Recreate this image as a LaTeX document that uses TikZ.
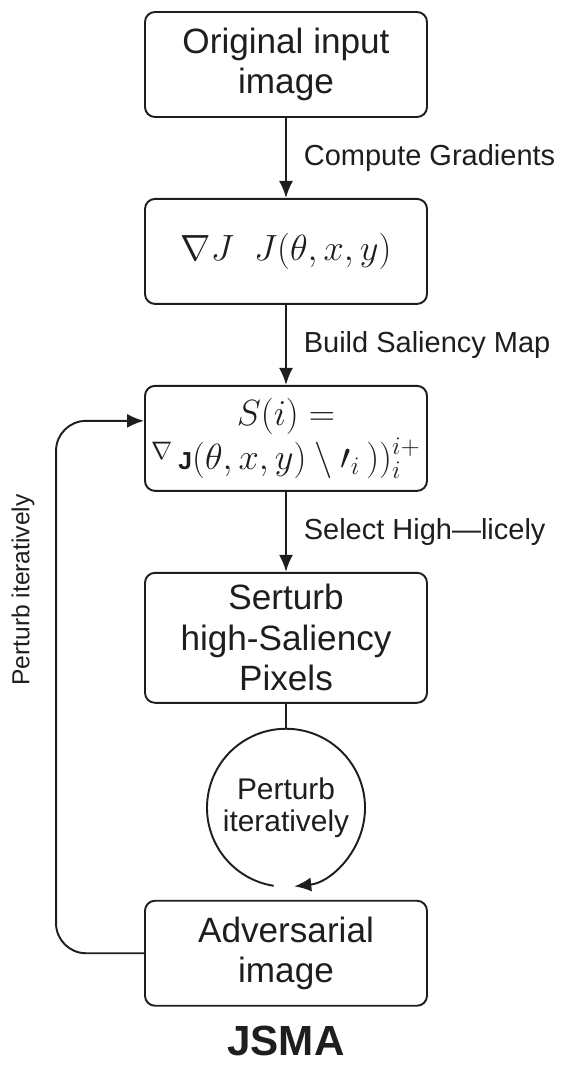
\documentclass[tikz,border=0pt]{standalone}
\usepackage{fontspec}
\setmainfont{Liberation Sans}
\usepackage{amsmath}
\usepackage{amssymb}
\usetikzlibrary{shapes, arrows.meta, positioning}
\definecolor{Ink}{HTML}{1E1E1E}

\begin{document}
\begin{tikzpicture}[node distance=1.6cm, >={Latex[length=3.4mm,width=2.8mm]}, line width=1.1pt, draw=Ink, text=Ink,
  box/.style={draw, rounded corners=0.2cm, minimum width=5.64cm, minimum height=2.1cm, align=center, font=\fontsize{20}{23}\selectfont},
  lbl/.style={font=\fontsize{16.5}{19}\selectfont}]
  \useasboundingbox (0,0) rectangle (11.34,-21.34);

  \node[box] (orig) at (5.72,-1.29) {Original input\\image};
  \node[box, below=of orig] (grad) {\fontsize{22}{26}\selectfont$\nabla J\;\; J(\theta, x, y)$};
  \node[box, below=of grad] (sal) {\fontsize{20}{21}\selectfont$S(i) =$\\[2pt]
    \fontsize{20}{21}\selectfont$\raisebox{0.5ex}{$\scriptstyle\nabla$}\,{\scriptstyle\mathbf{J}}(\theta, x, y) \setminus {\prime}_{i}\,))_{i}^{i+}$};
  \node[box, below=of sal, minimum height=2.6cm] (pert) {Serturb\\high-Saliency\\Pixels};
  \node[circle, minimum size=3.16cm, inner sep=0pt, outer sep=0pt, below=0.5cm of pert, align=center, font=\fontsize{17}{18.5}\selectfont] (iter) {Perturb\\iteratively};
  \node[box, below=0.26cm of iter] (adv) {Adversarial\\image};
  \node[font=\bfseries\fontsize{24}{28}\selectfont, below=0.25cm of adv] (title) {JSMA};
  \node[font=\fontsize{14}{17}\selectfont, rotate=90] (side) at (0.46,-11.8) {Perturb iteratively};

  \draw[->] (orig) -- node[lbl, right=0.22cm] {Compute Gradients} (grad);
  \draw[->] (grad) -- node[lbl, right=0.22cm] {Build Saliency Map} (sal);
  \draw[->] (sal) -- node[lbl, right=0.22cm] {Select High---licely} (pert);
  \draw (pert) -- (iter);
  \draw[->] (iter.261) arc[start angle=261, end angle=-84, radius=1.58cm];
  \draw[->, rounded corners=0.6cm] (adv.west) -- ++(-1.76,0) |- ([yshift=0.35cm]sal.west);
\end{tikzpicture}
\end{document}
